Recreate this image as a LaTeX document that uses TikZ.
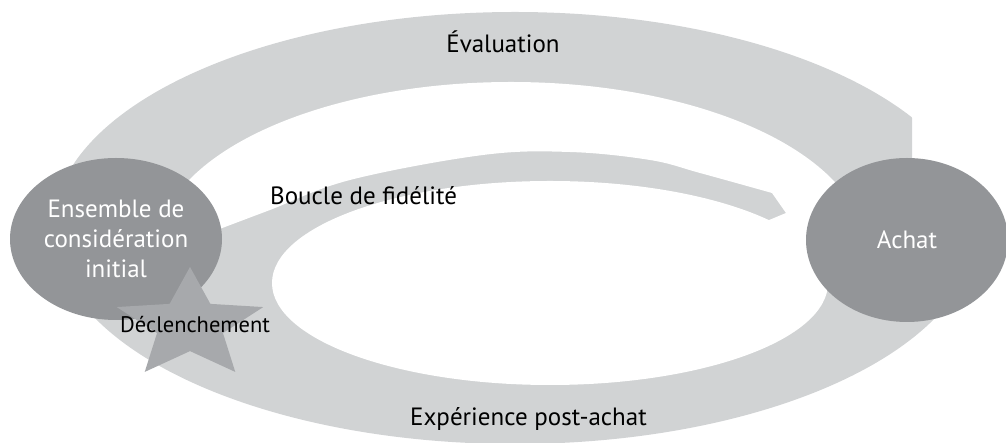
\documentclass[tikz,border=0pt]{standalone}
\usepackage{fontspec}
\setmainfont{PT Sans}
\usepackage{tikz}
\usetikzlibrary{calc, shapes.geometric}
\definecolor{bandgray}{RGB}{209,211,212}
\definecolor{bubblegray}{RGB}{147,149,152}
\definecolor{stargray}{RGB}{167,169,172}

\begin{document}
\begin{tikzpicture}[
        x=1pt, y=1pt,
        font=\fontsize{25}{30}\selectfont,
        bandfill/.style ={fill=bandgray},
        hole/.style     ={fill=white},
        bubble/.style   ={ellipse, fill=bubblegray, text=white, align=center, inner sep=0pt},
        trigger/.style  ={fill=stargray},
        lbl/.style      ={inner sep=0pt, text=black},
    ]
    \useasboundingbox (0,0) rectangle (1006,443);

    % outer ring, cut square where the evaluation band runs into the purchase
    \begin{scope}
        \clip (0,0) -- (0,443) -- (912,443) -- (912,250) -- (1006,250) -- (1006,0) -- cycle;
        \fill[bandfill] (515,215) ellipse [x radius=462pt, y radius=216pt];
    \end{scope}

    % white gap between evaluation band and loyalty loop, ending in the tip
    \fill[hole] (865,193) arc [start angle=0, end angle=180, x radius=354pt, y radius=168pt]
        -- (200,203)
        -- plot[smooth, tension=0.6] coordinates {(217,213) (270,233) (350,263) (483,288)
              (570,291) (650,283) (700,270) (772,250)}
        -- (786,230) -- (762,220) -- (762,158) -- (870,158) -- cycle;
    \fill[hole] (550,160) ellipse [x radius=278pt, y radius=102pt];

    \node[bubble, minimum width=212pt, minimum height=162pt] (initial) at (116,204)
          {Ensemble de\\considération\\initial};
    \node[bubble, minimum width=202pt, minimum height=164pt] (achat) at (907,203) {Achat};

    % trigger star, squashed vertically
    \fill[trigger] plot[samples at={0,...,9}, variable=\k]
          ({190+77*(1-0.55*mod(\k,2))*cos(90+36*\k)}, {118+58*(1-0.55*mod(\k,2))*sin(90+36*\k)}) -- cycle;

    \node[lbl, anchor=base] (eval) at (503,390) {Évaluation};
    \node[lbl, anchor=base west] (fidel) at (270,238) {Boucle de fidélité};
    \node[lbl, anchor=base west] (post) at (410,17) {Expérience post-achat};
    \node[lbl, anchor=base west, font=\fontsize{22.5}{26}\selectfont] (trig) at (120,110) {Déclenchement};

\end{tikzpicture}
\end{document}
